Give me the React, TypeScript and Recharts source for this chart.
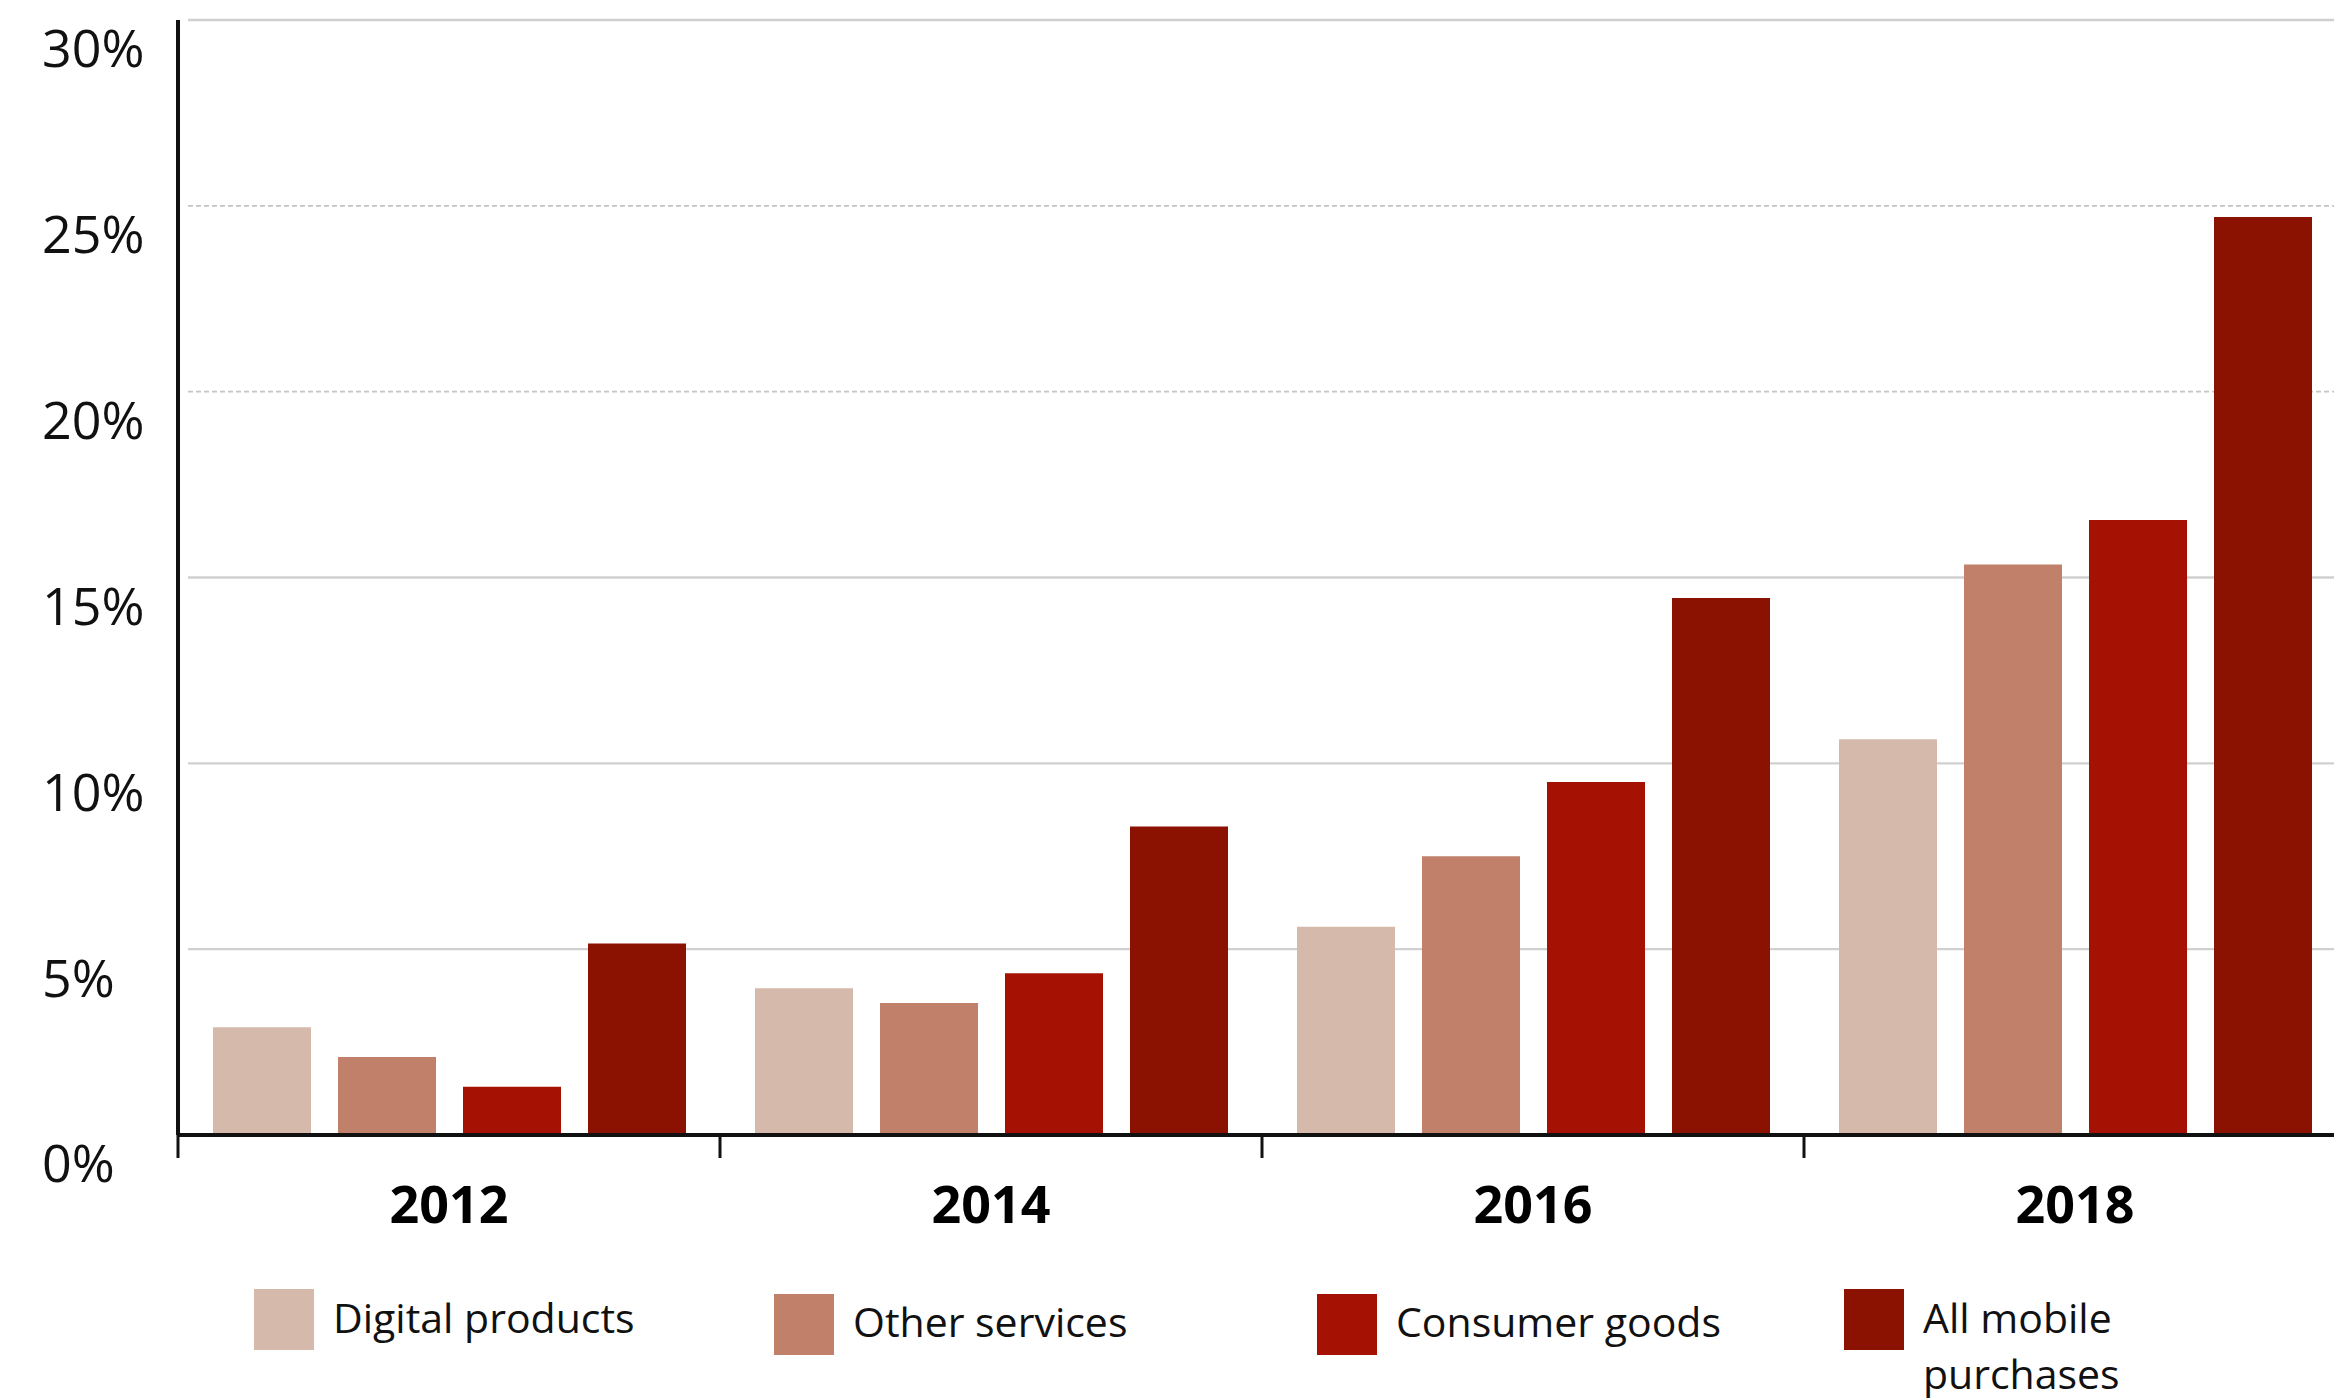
import React from 'react';
import { BarChart, Bar, XAxis, YAxis, ReferenceLine, Legend } from 'recharts';

const years = ['2012', '2014', '2016', '2018'];
const digitalProducts = [2.9, 3.95, 5.6, 10.65];
const otherServices = [2.1, 3.55, 7.5, 15.35];
const consumerGoods = [1.3, 4.35, 9.5, 16.55];
const allMobilePurchases = [5.15, 8.3, 14.45, 24.7];

const seriesKeys = ['digital', 'other', 'consumer', 'all'];
const seriesNames = ['Digital products', 'Other services', 'Consumer goods', 'All mobile purchases'];
const seriesColors = ['#D5B9AB', '#C0806A', '#A51203', '#8B1100'];

const yTicks = [0, 5, 10, 15, 20, 25, 30];
const solidGridValues = [5, 10, 15, 30];
const dashedGridValues = [20, 25];
const bandTicks = [0, 0.5, 1, 1.5, 2, 2.5, 3, 3.5, 4];

const data = years.map((year, i) => ({
  year,
  idx: i,
  digital: digitalProducts[i],
  other: otherServices[i],
  consumer: consumerGoods[i],
  all: allMobilePurchases[i],
}));

const FONT = "'Open Sans', 'DejaVu Sans', sans-serif";
const legendItemWidths = [520, 543, 527, 490];

const YTick = (props: any) => {
  const { y, payload } = props;
  return (
    <text x={42} y={y + 29} dy="0.355em" textAnchor="start" fontFamily={FONT} fontSize={52} fill="#111">
      {payload.value}%
    </text>
  );
};

const BandTick = (props: any) => {
  const { x, y, payload } = props;
  const v = payload.value;
  if (Number.isInteger(v)) {
    return <line x1={x} y1={y} x2={x} y2={y + 23} stroke="#111" strokeWidth={3} />;
  }
  return (
    <text x={x} y={y + 70} dy="0.355em" textAnchor="middle" fontFamily={FONT} fontWeight={700} fontSize={52} fill="#000">
      {years[Math.floor(v)]}
    </text>
  );
};

const LegendContent = () => (
  <div
    style={{
      display: 'flex',
      height: 108,
      paddingLeft: 254,
      boxSizing: 'border-box',
      fontFamily: FONT,
      fontSize: 41,
      color: '#111',
    }}
  >
    {seriesNames.map((name, i) => (
      <div key={name} style={{ width: legendItemWidths[i], flexShrink: 0, display: 'flex', alignItems: 'flex-start' }}>
        <div style={{ width: 60, height: 61, background: seriesColors[i], flexShrink: 0, marginTop: i === 0 || i === 3 ? 0 : 5 }} />
        <div style={{ marginLeft: 19, maxWidth: 340, lineHeight: '56px', marginTop: i === 0 || i === 3 ? 0 : 4 }}>{name}</div>
      </div>
    ))}
  </div>
);

const gridShape = (dashed: boolean) => (p: any) => (
  <line
    x1={p.x1 + 10}
    y1={p.y1}
    x2={p.x2}
    y2={p.y2}
    stroke={dashed ? '#c4c4c4' : '#d0d0d0'}
    strokeWidth={dashed ? 1.6 : 2.4}
    strokeDasharray={dashed ? '5 3' : undefined}
  />
);

export default function App() {
  return (
    <div style={{ position: 'absolute', left: 0, top: 0, width: 2334, height: 1398, overflow: 'hidden', background: '#fff' }}>
      <BarChart
        width={2360}
        height={1398}
        data={data}
        margin={{ top: 20, right: 14, left: 0, bottom: 0 }}
        barCategoryGap={35}
        barGap={27}
      >
        <XAxis xAxisId="cat" dataKey="year" hide height={0} />
        <XAxis
          xAxisId="band"
          dataKey="idx"
          type="number"
          domain={[0, 4]}
          ticks={bandTicks}
          interval={0}
          allowDataOverflow
          height={155}
          tickSize={0}
          tickMargin={0}
          tickLine={false}
          axisLine={{ stroke: '#111', strokeWidth: 4 }}
          tick={(p: any) => <BandTick {...p} />}
        />
        <YAxis
          width={178}
          domain={[0, 30]}
          ticks={yTicks}
          interval={0}
          allowDataOverflow
          tickLine={false}
          axisLine={{ stroke: '#111', strokeWidth: 4 }}
          tick={(p: any) => <YTick {...p} />}
        />
        {solidGridValues.map((v) => (
          <ReferenceLine key={`s${v}`} xAxisId="cat" y={v} zIndex={-10} shape={gridShape(false)} />
        ))}
        {dashedGridValues.map((v) => (
          <ReferenceLine key={`d${v}`} xAxisId="cat" y={v} zIndex={-10} shape={gridShape(true)} />
        ))}
        {seriesKeys.map((k, i) => (
          <Bar key={k} xAxisId="cat" dataKey={k} name={seriesNames[i]} fill={seriesColors[i]} isAnimationActive={false} />
        ))}
        <Legend
          verticalAlign="bottom"
          content={() => <LegendContent />}
          wrapperStyle={{ left: 0, top: 1289, width: 2360 }}
        />
      </BarChart>
    </div>
  );
}
